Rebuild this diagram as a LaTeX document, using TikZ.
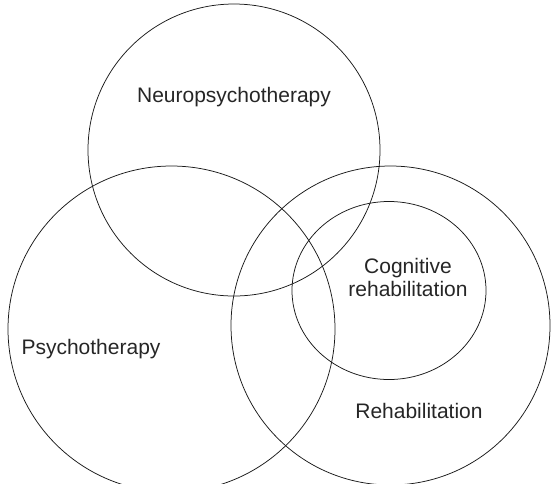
\documentclass[tikz,border=0pt]{standalone}
\usepackage{fontspec}
\setmainfont{Liberation Sans}
\usetikzlibrary{calc}
\tikzstyle{vennset}=[draw=black!90, line width=0.75pt]
\tikzstyle{setlabel}=[font=\fontsize{21}{24}\selectfont, align=center, text=black!85, inner sep=0pt]
\newcommand{\drawset}[4]{
\draw[vennset] (#1,#2) ellipse ({#3} and {#4});
}

\begin{document}
\begin{tikzpicture}[x=1pt,y=-1pt]
  \useasboundingbox (0,0) rectangle (551,483);
  \clip (0,0) rectangle (551,483);
  \begin{scope}
  \drawset{234}{150}{146}{146} % neuropsychotherapy
  \drawset{171.5}{329}{163.5}{163} % psychotherapy
  \drawset{390.5}{325.5}{159.5}{159.5} % rehabilitation
  \drawset{389}{290.5}{97}{89} % cognitive rehabilitation
  \node[setlabel] (neuro) at (234,97) {Neuropsychotherapy};
  \node[setlabel] (psycho) at (91,349) {Psychotherapy};
  \node[setlabel] (cogrehab) at (408,277) {Cognitive\\[-1pt]rehabilitation};
  \node[setlabel] (rehab) at (419,411) {Rehabilitation};
  \end{scope}
\end{tikzpicture}
\end{document}
